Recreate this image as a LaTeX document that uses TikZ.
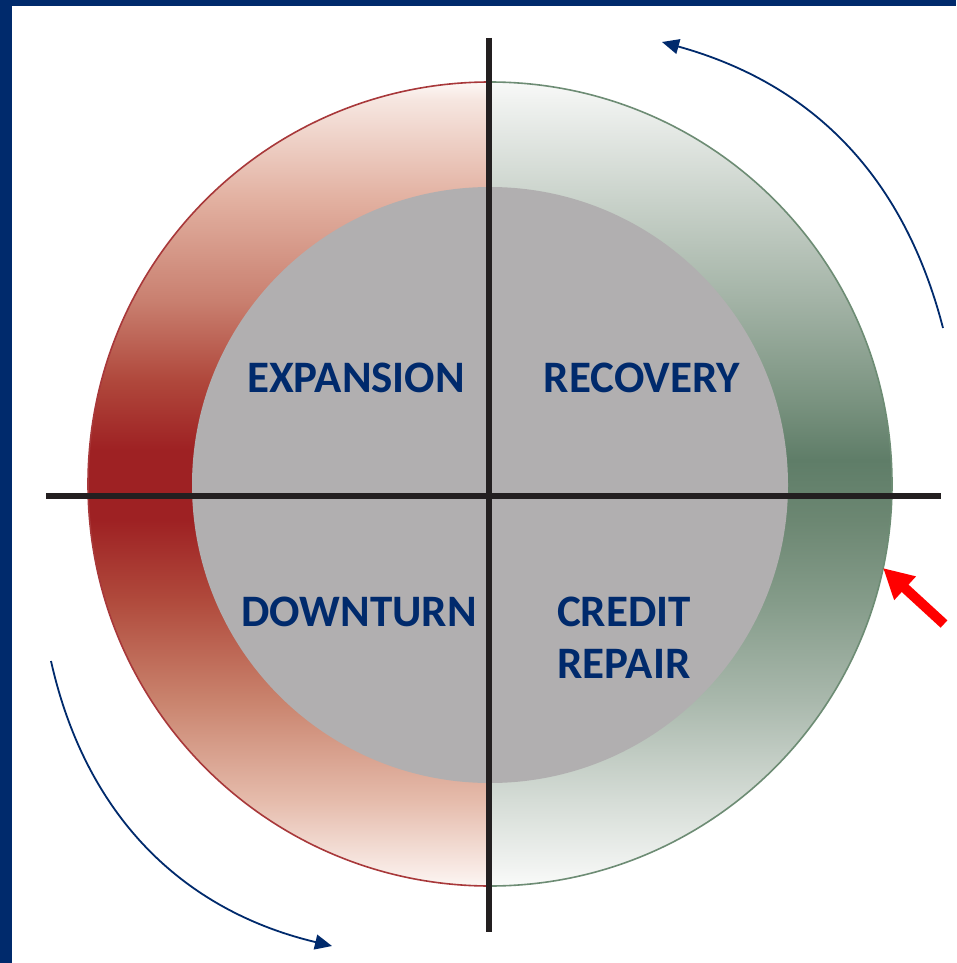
\documentclass[tikz,border=0pt]{standalone}
\usepackage{fontspec}
\setmainfont{Carlito}
\usetikzlibrary{arrows.meta}
\definecolor{navy}{HTML}{002A6C}
\definecolor{crossc}{HTML}{231F20}
\definecolor{innergray}{HTML}{B1AFB0}
\definecolor{redline}{HTML}{A8383A}
\definecolor{greenline}{HTML}{6D8C74}
\definecolor{textblue}{HTML}{002A6C}
% red ring stops
\definecolor{ra}{HTML}{FCF6F3}
\definecolor{rb}{HTML}{F8EAE5}
\definecolor{rc}{HTML}{E5BBAB}
\definecolor{rd}{HTML}{C9836D}
\definecolor{re}{HTML}{B04A3C}
\definecolor{rf}{HTML}{9E2123}
\definecolor{rg}{HTML}{9E2123}
\definecolor{rh}{HTML}{B0483C}
\definecolor{ri}{HTML}{C98070}
\definecolor{rj}{HTML}{E2B0A0}
\definecolor{rk}{HTML}{F6E6E0}
\definecolor{rl}{HTML}{FDF8F6}
% green ring stops
\definecolor{ga}{HTML}{FAFBFA}
\definecolor{gb}{HTML}{F2F4F2}
\definecolor{gc}{HTML}{D5DCD6}
\definecolor{gd}{HTML}{A9B8AC}
\definecolor{ge}{HTML}{849B89}
\definecolor{gf}{HTML}{6C8772}
\definecolor{gg}{HTML}{5F7D68}
\definecolor{gh}{HTML}{7A9380}
\definecolor{gi}{HTML}{A3B3A6}
\definecolor{gj}{HTML}{C9D2CA}
\definecolor{gk}{HTML}{F0F2F0}
\definecolor{gl}{HTML}{F8F9F8}
\pgfdeclareverticalshading{redring}{100bp}{color(0bp)=(ra); color(25bp)=(ra); color(26bp)=(rb); color(30.35bp)=(rc); color(36.57bp)=(rd); color(42.79bp)=(re); color(47.76bp)=(rf); color(52.11bp)=(rg); color(56.47bp)=(rh); color(61.44bp)=(ri); color(67.66bp)=(rj); color(73.88bp)=(rk); color(75bp)=(rl); color(100bp)=(rl)}
\pgfdeclareverticalshading{greenring}{100bp}{color(0bp)=(ga); color(25bp)=(ga); color(26bp)=(gb); color(30.35bp)=(gc); color(36.57bp)=(gd); color(42.79bp)=(ge); color(47.76bp)=(gf); color(51.5bp)=(gg); color(55.2bp)=(gh); color(61.44bp)=(gi); color(67.66bp)=(gj); color(73.88bp)=(gk); color(75bp)=(gl); color(100bp)=(gl)}
\tikzset{
  phase/.style={font=\bfseries\fontsize{45}{52}\selectfont, text=textblue, inner sep=0pt, anchor=base},
  crossline/.style={line width=5.5pt, color=crossc},
  cyclearrow/.style={navy, line width=1.8pt, -{Triangle[length=17pt,width=15pt]}},
  markarrow/.style={red, line width=10pt, -{Triangle[length=30pt,width=30pt]}}
}
\begin{document}
\begin{tikzpicture}[x=1pt,y=-1pt]
\useasboundingbox (0,0) rectangle (956,963);
\fill[white] (0,0) rectangle (956,963);
\fill[navy] (0,0) rectangle (12,963);
\fill[navy] (0,0) rectangle (956,6);
% ring halves
\fill[shading=redring] (490,82) arc[start angle=-90, end angle=-270, radius=402] -- cycle;
\fill[shading=greenring] (490,82) arc[start angle=-90, end angle=90, radius=402] -- cycle;
\draw[redline, line width=1.6pt] (490,82) arc[start angle=-90, end angle=-270, radius=402];
\draw[greenline, line width=1.6pt] (490,82) arc[start angle=-90, end angle=90, radius=402];
% inner disc
\fill[innergray] (490,485) circle[radius=298];
% cross
\coordinate (hl) at (46,496);
\coordinate (hr) at (941,496);
\coordinate (vt) at (489,38);
\coordinate (vb) at (489,932);
\draw[crossline] (hl) -- (hr);
\draw[crossline] (vt) -- (vb);
% labels
\node[phase] (exp) at (356,392) {EXPANSION};
\node[phase] (rec) at (642,392) {RECOVERY};
\node[phase] (down) at (359,626) {DOWNTURN};
\node[phase] (credit) at (624,626) {CREDIT};
\node[phase] (repair) at (624,678) {REPAIR};
% cycle arrows
\coordinate (a1s) at (943,328);
\coordinate (a1e) at (662,42);
\coordinate (a2s) at (51,661);
\coordinate (a2e) at (332,946);
\draw[cyclearrow] (a1s) to[bend right=30] (a1e);
\draw[cyclearrow] (a2s) to[bend right=32] (a2e);
% red marker arrow
\coordinate (ms) at (944,624);
\coordinate (me) at (883,568);
\draw[markarrow] (ms) -- (me);
\end{tikzpicture}
\end{document}
